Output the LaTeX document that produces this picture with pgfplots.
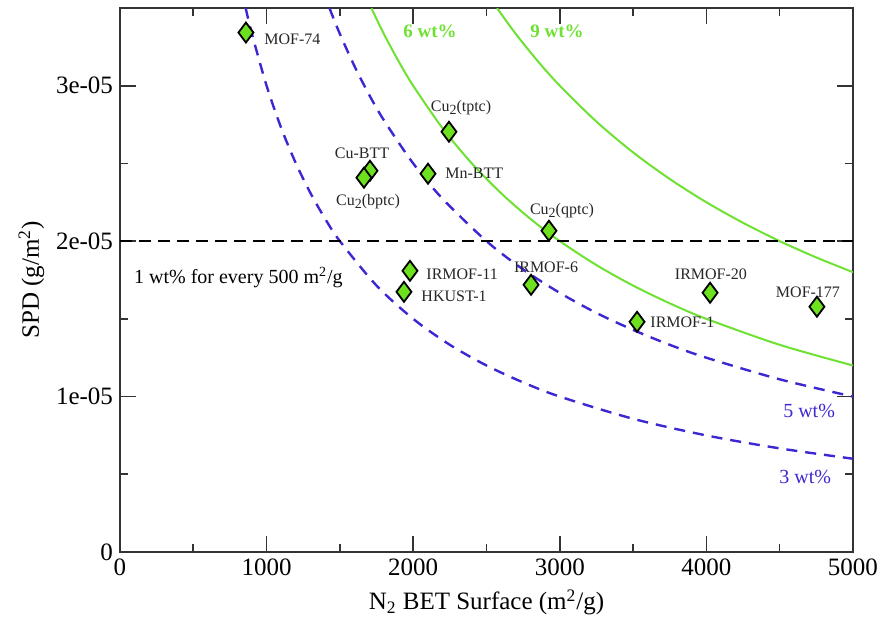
\documentclass[border=0pt]{standalone}
\usepackage{pgfplots}
\pgfplotsset{compat=1.18}
\usepackage{fontspec}
\setmainfont{Liberation Serif}
\definecolor{mgreen}{RGB}{110,225,50}
\definecolor{mfill}{RGB}{110,225,30}
\definecolor{mblue}{RGB}{60,40,210}
\newcommand{\sub}[1]{\raisebox{-0.35ex}{\scriptsize #1}}
\begin{document}
\begin{tikzpicture}
\useasboundingbox (-60pt,-37.5pt) rectangle (381pt,276pt);
\begin{axis}[
  scale only axis,
  width=366.5pt, height=272pt,
  xmin=0, xmax=5000, ymin=0, ymax=3.5e-5,
  xtick={0,1000,2000,3000,4000,5000},
  ytick={0,1e-5,2e-5,3e-5},
  yticklabels={0,1e-05,2e-05,3e-05},
  scaled y ticks=false, scaled x ticks=false,
  minor x tick num=1, minor y tick num=1,
  major tick length=8pt, minor tick length=4pt,
  axis line style={line width=1pt, black!80},
  every tick/.style={line width=0.8pt, black!80},
  /pgf/number format/assume math mode=true,
  /pgf/number format/set thousands separator={},
  tick label style={font=\fontsize{12.5}{14}\selectfont},
  xlabel={N\textsubscript{2} BET Surface (m\textsuperscript{2}/g)},
  ylabel={SPD (g/m\textsuperscript{2})},
  label style={font=\fontsize{12.5}{14}\selectfont},
  xlabel style={yshift=0pt},
  ylabel style={yshift=-1pt},
  clip=true,
]
% 3 wt%
\addplot[mblue, line width=1.2pt, dash pattern=on 5.5pt off 4pt, smooth] coordinates {
(857,3.5006e-5)(900,3.333e-5)(1000,3.0e-5)(1100,2.727e-5)(1200,2.5e-5)(1300,2.308e-5)(1400,2.143e-5)(1500,2.0e-5)(1750,1.714e-5)(2000,1.5e-5)(2250,1.333e-5)(2500,1.2e-5)(2750,1.091e-5)(3000,1.0e-5)(3500,8.571e-6)(4000,7.5e-6)(4500,6.667e-6)(5000,6.0e-6)};
% 5 wt%
\addplot[mblue, line width=1.2pt, dash pattern=on 5.5pt off 4pt, smooth] coordinates {
(1429,3.499e-5)(1500,3.333e-5)(1600,3.125e-5)(1700,2.941e-5)(1800,2.778e-5)(2000,2.5e-5)(2200,2.273e-5)(2500,2.0e-5)(2750,1.818e-5)(3000,1.667e-5)(3250,1.538e-5)(3500,1.429e-5)(3750,1.333e-5)(4000,1.25e-5)(4500,1.111e-5)(5000,1.0e-5)};
% 6 wt%
\addplot[mgreen, line width=1pt, smooth] coordinates {
(1715,3.4985e-5)(1800,3.333e-5)(1900,3.158e-5)(2000,3.0e-5)(2200,2.727e-5)(2400,2.5e-5)(2600,2.308e-5)(2800,2.143e-5)(3000,2.0e-5)(3250,1.846e-5)(3500,1.714e-5)(3750,1.6e-5)(4000,1.5e-5)(4500,1.333e-5)(5000,1.2e-5)};
% 9 wt%
\addplot[mgreen, line width=1pt, smooth] coordinates {
(2572,3.4992e-5)(2700,3.333e-5)(2850,3.158e-5)(3000,3.0e-5)(3250,2.769e-5)(3500,2.571e-5)(3750,2.4e-5)(4000,2.25e-5)(4250,2.118e-5)(4500,2.0e-5)(4750,1.895e-5)(5000,1.8e-5)};
% 1 wt% per 500
\addplot[black, line width=1pt, dash pattern=on 6pt off 3.5pt] coordinates {(0,2e-5)(5000,2e-5)};
% MOFs
\addplot[only marks, mark=diamond*, mark size=5pt, mark options={fill=mfill, draw=black, line width=0.9pt}] coordinates {
(859,3.342e-5)(2244,2.704e-5)(1705,2.453e-5)(1664,2.408e-5)(2101,2.434e-5)(2926,2.067e-5)(1978,1.809e-5)(1937,1.674e-5)(2804,1.719e-5)(3527,1.481e-5)(4025,1.668e-5)(4754,1.578e-5)};
\begin{scope}[every node/.style={font=\fontsize{8}{9}\selectfont, inner sep=1pt, text=black!85}]
\node[anchor=west] at (axis cs:969,3.297e-5) {MOF-74};
\node at (axis cs:2326,2.859e-5) {Cu\sub{2}(tptc)};
\node at (axis cs:1651,2.563e-5) {Cu-BTT};
\node at (axis cs:1692,2.254e-5) {Cu\sub{2}(bptc)};
\node[anchor=west] at (axis cs:2203,2.434e-5) {Mn-BTT};
\node at (axis cs:3015,2.196e-5) {Cu\sub{2}(qptc)};
\node[anchor=west] at (axis cs:2074,1.79e-5) {IRMOF-11};
\node[anchor=west] at (axis cs:2040,1.648e-5) {HKUST-1};
\node at (axis cs:2906,1.829e-5) {IRMOF-6};
\node[anchor=west] at (axis cs:3602,1.475e-5) {IRMOF-1};
\node at (axis cs:4031,1.79e-5) {IRMOF-20};
\node at (axis cs:4693,1.674e-5) {MOF-177};
\end{scope}
\node[anchor=west, font=\fontsize{10}{12}\selectfont] at (axis cs:48,1.764e-5) {1 wt\% for every 500 m\textsuperscript{2}/g};
\node[text=mgreen, font=\fontsize{9.5}{11}\selectfont\bfseries] at (axis cs:2115,3.348e-5) {6 wt\%};
\node[text=mgreen, font=\fontsize{9.5}{11}\selectfont\bfseries] at (axis cs:2981,3.348e-5) {9 wt\%};
\node[anchor=east, text=mblue, font=\fontsize{10}{12}\selectfont] at (axis cs:4925,0.908e-5) {5 wt\%};
\node[anchor=east, text=mblue, font=\fontsize{10}{12}\selectfont] at (axis cs:4898,0.483e-5) {3 wt\%};
\end{axis}
\end{tikzpicture}
\end{document}
